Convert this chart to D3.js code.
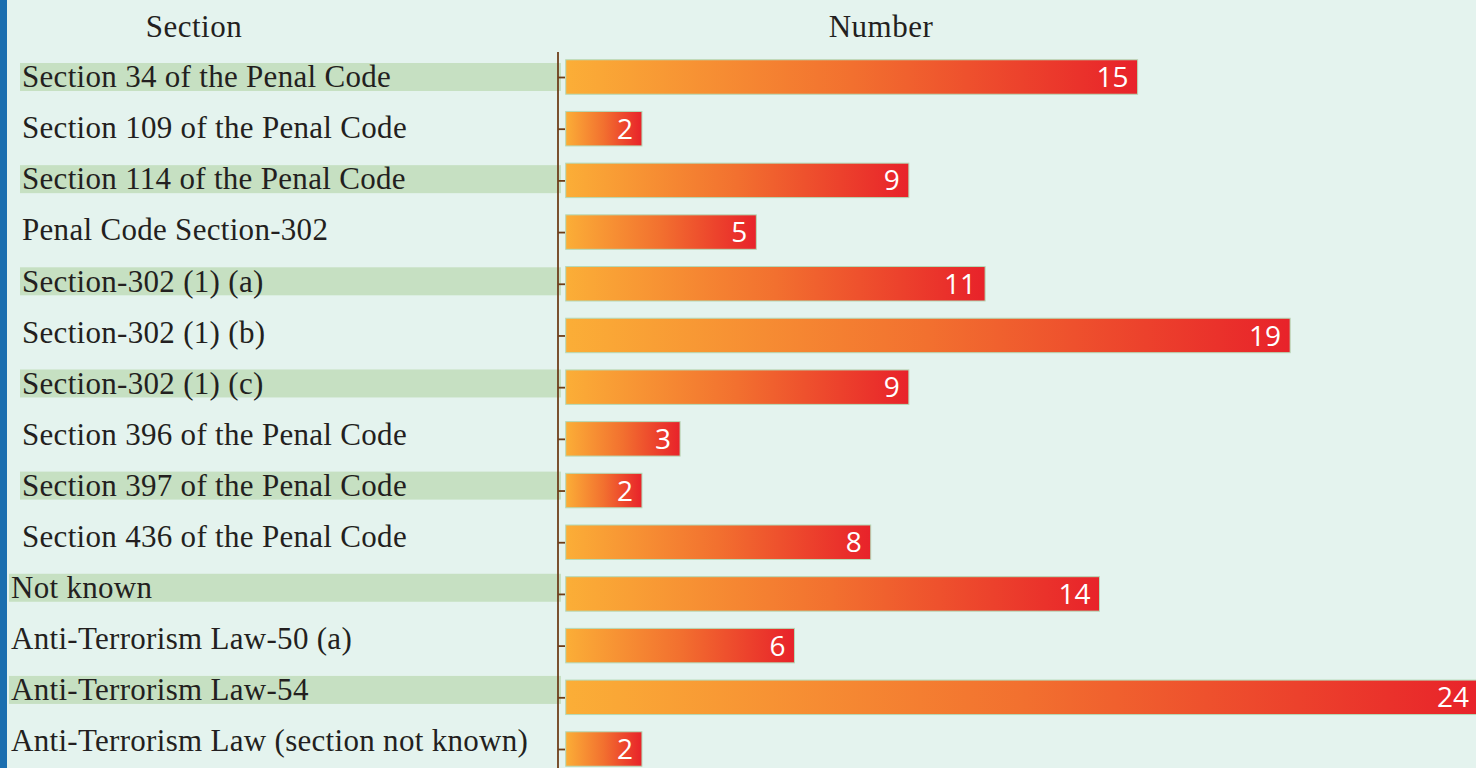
<!DOCTYPE html>
<html>
<head>
<meta charset="utf-8">
<script src="https://cdn.jsdelivr.net/npm/d3@7"></script>
<style>
  html, body { margin: 0; padding: 0; background: #e4f3ee; overflow: hidden; }
  svg { display: block; }
</style>
</head>
<body>
<svg id="chart" width="1476" height="768"></svg>
<script>
// ── Data ──────────────────────────────────────────────────────────────────────
const sections = [
  'Section 34 of the Penal Code',
  'Section 109 of the Penal Code',
  'Section 114 of the Penal Code',
  'Penal Code Section-302',
  'Section-302 (1) (a)',
  'Section-302 (1) (b)',
  'Section-302 (1) (c)',
  'Section 396 of the Penal Code',
  'Section 397 of the Penal Code',
  'Section 436 of the Penal Code',
  'Not known',
  'Anti-Terrorism Law-50 (a)',
  'Anti-Terrorism Law-54',
  'Anti-Terrorism Law (section not known)'
];
const counts = [15, 2, 9, 5, 11, 19, 9, 3, 2, 8, 14, 6, 24, 2];
const headers = ['Section', 'Number'];

// ── Layout ────────────────────────────────────────────────────────────────────
const W = 1476, H = 768;
const AXIS_X = 558;
const TXT = '#231f20';
const SERIF = '"Liberation Serif", "DejaVu Serif", serif';

const svg = d3.select('#chart');

svg.append('rect').attr('width', W).attr('height', H).attr('fill', '#e4f3ee');
svg.append('rect').attr('width', 7).attr('height', H).attr('fill', '#1a6eaf');

const defs = svg.append('defs');
const grad = defs.append('linearGradient').attr('id', 'barGrad')
  .attr('x1', '0%').attr('x2', '100%').attr('y1', '0%').attr('y2', '0%');
grad.append('stop').attr('offset', '0%').attr('stop-color', '#fbae37');
grad.append('stop').attr('offset', '50%').attr('stop-color', '#f2702f');
grad.append('stop').attr('offset', '100%').attr('stop-color', '#e8222a');

// bars and labels sit on slightly different row grids
const yBar = d3.scalePoint().domain(sections).range([77, 749]);
const yLbl = d3.scalePoint().domain(sections).range([77, 741]);
const x = d3.scaleLinear().domain([0, 24]).range([565.7, 1480.8]);
const barH = yBar.step() * 0.667;

const indent = i => i < 10 ? 22 : 11;

// headers
svg.selectAll('text.hdr').data(headers).join('text')
  .attr('class', 'hdr')
  .attr('x', (d, i) => i === 0 ? 194 : 881)
  .attr('y', 37)
  .attr('text-anchor', 'middle')
  .attr('font-family', SERIF)
  .attr('font-size', 31)
  .attr('letter-spacing', 0.5)
  .attr('fill', TXT)
  .text(d => d);

// row highlights
svg.append('g').selectAll('rect')
  .data(sections.filter((d, i) => i % 2 === 0))
  .join('rect')
  .attr('x', d => indent(sections.indexOf(d)) - 2)
  .attr('y', d => yLbl(d) - 14)
  .attr('width', d => 563 - indent(sections.indexOf(d)))
  .attr('height', 28)
  .attr('fill', '#c6e0c2');

// row labels
svg.append('g').selectAll('text')
  .data(sections)
  .join('text')
  .attr('x', (d, i) => indent(i))
  .attr('y', d => yLbl(d))
  .attr('dy', '0.33em')
  .attr('font-family', SERIF)
  .attr('font-size', 31)
  .attr('letter-spacing', 0.3)
  .attr('fill', TXT)
  .text(d => d);

// axis
const axis = svg.append('g')
  .attr('transform', `translate(${AXIS_X},0)`)
  .call(d3.axisRight(yBar).tickSize(7).tickSizeOuter(0).tickFormat(''));
axis.select('.domain').attr('d', 'M0,52V768').attr('stroke', '#6e3f1a').attr('stroke-width', 1.8);
axis.selectAll('.tick line').attr('stroke', '#6e3f1a').attr('stroke-width', 1.8);

// bars
svg.append('g').selectAll('rect')
  .data(sections)
  .join('rect')
  .attr('x', x(0))
  .attr('y', d => yBar(d) - barH / 2)
  .attr('width', (d, i) => x(counts[i]) - x(0))
  .attr('height', barH)
  .attr('fill', 'url(#barGrad)')
  .attr('stroke', '#b4dab8')
  .attr('stroke-width', 1);

// value labels
svg.append('g').selectAll('text')
  .data(sections)
  .join('text')
  .attr('x', (d, i) => Math.min(x(counts[i]) - 9, W - 7))
  .attr('y', d => yBar(d))
  .attr('dy', '0.36em')
  .attr('text-anchor', 'end')
  .attr('font-family', '"Open Sans", "Noto Sans", sans-serif')
  .attr('font-size', 28)
  .attr('fill', '#ffffff')
  .text((d, i) => counts[i]);
</script>
</body>
</html>
